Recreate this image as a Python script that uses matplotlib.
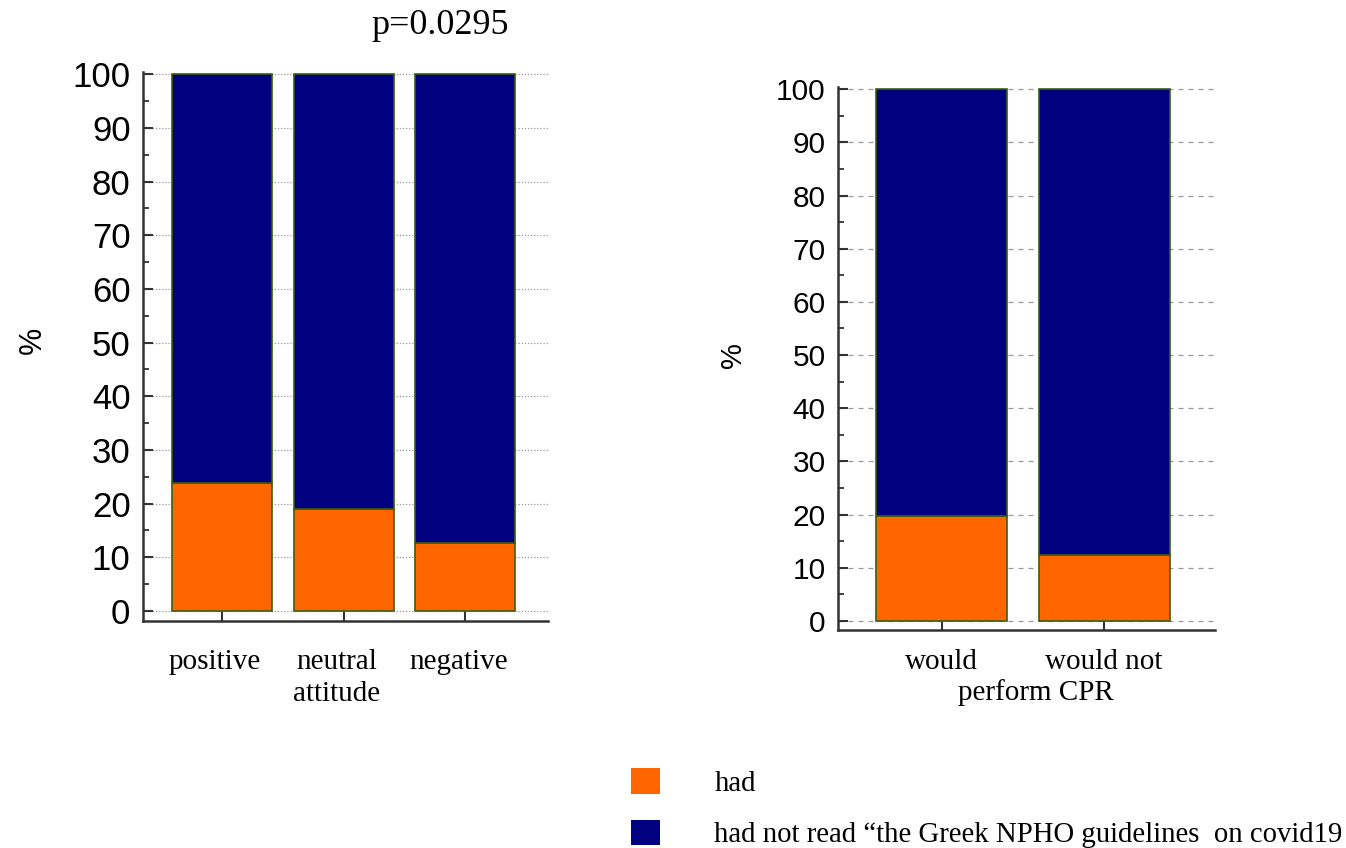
import numpy as np
import matplotlib.pyplot as plt
import matplotlib.transforms as mtransforms
from matplotlib.patches import Patch
from matplotlib.ticker import MultipleLocator

# data (percentages)
attitude_cats = ["positive", "neutral\nattitude", "negative"]
attitude_had = [23.8, 19.0, 12.6]
attitude_not = [100 - v for v in attitude_had]

cpr_cats = ["would", "would not"]
cpr_had = [19.8, 12.5]
cpr_not = [100 - v for v in cpr_had]

legend_labels = ["had", "had not read \u201cthe Greek NPHO guidelines  on covid19"]
p_text = "p=0.0295"

orange = "#ff6600"
navy = "#000080"
edge = "#3a5f0b"
serif = "Liberation Serif"
sans = "Liberation Sans"

W, H = 1346, 848
fig = plt.figure(figsize=(W / 100, H / 100), dpi=100)


def px_axes(x0, x1, ytop, ybot):
    return fig.add_axes([x0 / W, (H - ybot) / H, (x1 - x0) / W, (ybot - ytop) / H])


def style(ax, grid_ls, tsize, ypad, xpad):
    for s in ["top", "right"]:
        ax.spines[s].set_visible(False)
    for s in ["left", "bottom"]:
        ax.spines[s].set_color("#333333")
        ax.spines[s].set_linewidth(1.8)
    ax.set_yticks(np.arange(0, 101, 10))
    ax.yaxis.set_minor_locator(MultipleLocator(5))
    ax.tick_params(axis="y", which="major", direction="in", length=7, width=1.5,
                   color="#333333", labelsize=tsize, pad=ypad)
    ax.tick_params(axis="y", which="minor", direction="in", length=4, width=1.3,
                   color="#333333")
    ax.tick_params(axis="x", direction="in", length=8, width=1.5, color="#333333",
                   pad=xpad)
    for lab in ax.get_yticklabels():
        lab.set_fontfamily(sans)
    ax.yaxis.grid(True, color="#999999", linestyle=grid_ls, linewidth=0.9)
    ax.set_axisbelow(True)


# left chart
ax1 = px_axes(143, 548, 72, 621)
x1 = np.arange(len(attitude_cats))
ax1.bar(x1, attitude_had, 0.82, color=orange, edgecolor=edge, linewidth=1.2)
ax1.bar(x1, attitude_not, 0.82, bottom=attitude_had, color=navy, edgecolor=edge,
        linewidth=1.2)
ax1.set_xlim(-0.65, 2.68)
ax1.set_ylim(-1.86, 100.4)
style(ax1, (0, (1, 1.5)), 25, 9, 20)
ax1.set_xticks(x1)
ax1.set_xticklabels(attitude_cats, fontfamily=serif, fontsize=21, linespacing=1.3)
shift = mtransforms.ScaledTranslation(-7 / 100, 0, fig.dpi_scale_trans)
for lab in ax1.get_xticklabels():
    lab.set_transform(lab.get_transform() + shift)
ax1.set_ylabel("%", fontfamily=sans, fontsize=22)
ax1.yaxis.set_label_coords(-0.235, 0.512)
fig.text(440 / W, (H - 26) / H, p_text, fontfamily=serif, fontsize=26,
         ha="center", va="center")

# right chart
ax2 = px_axes(838, 1215, 87, 630)
x2 = np.arange(len(cpr_cats))
ax2.bar(x2, cpr_had, 0.806, color=orange, edgecolor=edge, linewidth=1.2)
ax2.bar(x2, cpr_not, 0.806, bottom=cpr_had, color=navy, edgecolor=edge, linewidth=1.2)
ax2.set_xlim(-0.637, 1.683)
ax2.set_ylim(-1.69, 100.4)
style(ax2, (0, (4, 4)), 21.5, 9, 14)
ax2.set_xticks(x2)
ax2.set_xticklabels(cpr_cats, fontfamily=serif, fontsize=21)
ax2.set_ylabel("%", fontfamily=sans, fontsize=21)
ax2.yaxis.set_label_coords(-0.241, 0.506)
fig.text(1036 / W, (H - 693) / H, "perform CPR", fontfamily=serif, fontsize=21,
         ha="center", va="center")

# legend
handles = [Patch(facecolor=orange), Patch(facecolor=navy)]
fig.legend(handles=handles, labels=legend_labels, loc="upper left",
           bbox_to_anchor=(608 / W, (H - 745) / H), frameon=False,
           prop={"family": serif, "size": 20.7}, handlelength=1.0, handleheight=1.0,
           handletextpad=1.9, labelspacing=0.8, borderpad=0.3)

fig.savefig("out.png", dpi=100)
